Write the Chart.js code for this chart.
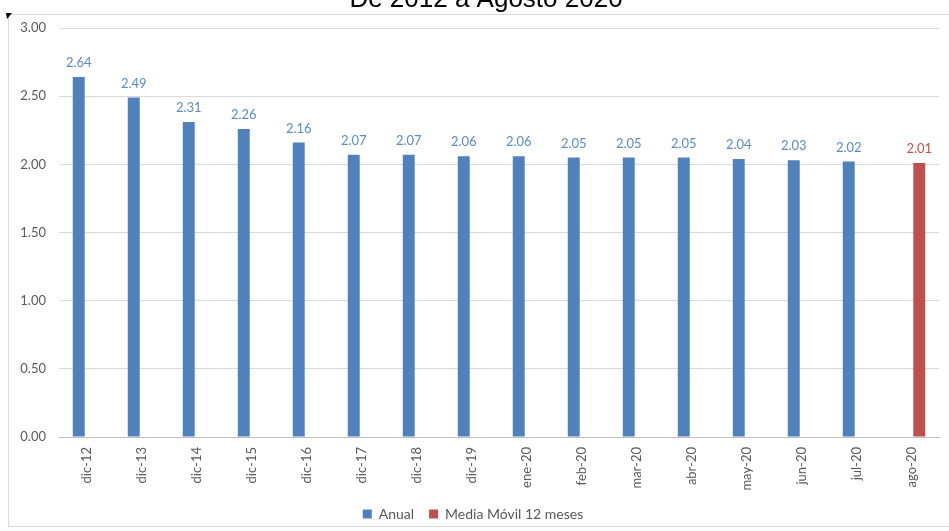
<!DOCTYPE html>
<html>
<head>
<meta charset="utf-8">
<script src="https://cdn.jsdelivr.net/npm/chart.js@4"></script>
<style>
  html, body { margin: 0; padding: 0; background: #fff; }
  #wrap { width: 949px; height: 531px; position: relative; }
</style>
</head>
<body>
<div id="wrap"><canvas id="chart" width="949" height="531"></canvas></div>
<script>
const titleText = "De 2012 a Agosto 2020";
const labels = ["dic-12", "dic-13", "dic-14", "dic-15", "dic-16", "dic-17", "dic-18", "dic-19",
  "ene-20", "feb-20", "mar-20", "abr-20", "may-20", "jun-20", "jul-20", "ago-20"];
const anual = [2.64, 2.49, 2.31, 2.26, 2.16, 2.07, 2.07, 2.06, 2.06, 2.05, 2.05, 2.05, 2.04, 2.03, 2.02, null];
const mediaMovil = [null, null, null, null, null, null, null, null, null, null, null, null, null, null, null, 2.01];
const seriesNames = ["Anual", "Media Móvil 12 meses"];

const gray = "#595959";
const font = "Lato, 'Open Sans', sans-serif";

// frame, cut-off title and value labels
const decor = {
  id: "decor",
  beforeDraw(chart) {
    const ctx = chart.ctx;
    ctx.save();
    ctx.fillStyle = "#fff";
    ctx.fillRect(0, 0, chart.width, chart.height);
    ctx.strokeStyle = "#d9d9d9";
    ctx.lineWidth = 1;
    ctx.strokeRect(8.5, 14.5, 950, 512);
    ctx.fillStyle = "#000";
    ctx.beginPath();
    ctx.moveTo(6, 13);
    ctx.lineTo(12, 13);
    ctx.lineTo(7, 19);
    ctx.closePath();
    ctx.fill();
    ctx.font = "26px 'Liberation Sans', Arial, sans-serif";
    ctx.textAlign = "center";
    ctx.textBaseline = "alphabetic";
    ctx.fillText(titleText, 486, 7);
    ctx.restore();
  },
  afterDatasetsDraw(chart) {
    const ctx = chart.ctx;
    ctx.save();
    ctx.font = "13px " + font;
    ctx.textAlign = "center";
    ctx.textBaseline = "alphabetic";
    chart.data.datasets.forEach((ds, i) => {
      const meta = chart.getDatasetMeta(i);
      ctx.fillStyle = ds.labelColor;
      meta.data.forEach((bar, j) => {
        const v = ds.data[j];
        if (v === null) return;
        ctx.fillText(v.toFixed(2), bar.x, bar.y - 10);
      });
    });
    ctx.restore();
  }
};

new Chart(document.getElementById("chart"), {
  type: "bar",
  data: {
    labels: labels,
    datasets: [
      { label: seriesNames[0], data: anual, backgroundColor: "#4f81bd", labelColor: "#5b8ac4" },
      { label: seriesNames[1], data: mediaMovil, backgroundColor: "#c0504d", labelColor: "#c0504d" }
    ]
  },
  options: {
    responsive: false,
    animation: false,
    categoryPercentage: 0.564,
    barPercentage: 0.77,
    layout: { padding: { top: 28, left: 7, right: 10, bottom: 0 } },
    plugins: {
      title: { display: false },
      tooltip: { enabled: false },
      legend: {
        position: "bottom",
        labels: {
          boxWidth: 9,
          boxHeight: 9,
          padding: 15,
          color: gray,
          font: { family: font, size: 14 }
        }
      }
    },
    scales: {
      x: {
        grid: { display: false },
        border: { color: "#bfbfbf" },
        ticks: {
          color: gray,
          font: { family: font, size: 13 },
          minRotation: 90,
          maxRotation: 90,
          padding: 2
        },
        afterFit(s) { s.height = 55; }
      },
      y: {
        min: 0,
        max: 3,
        grid: { color: "#d9d9d9", drawTicks: false },
        border: { display: false },
        ticks: {
          stepSize: 0.5,
          color: gray,
          padding: 13,
          font: { family: font, size: 13 },
          callback: (v) => v.toFixed(2)
        },
        afterFit(s) { s.width = 52; }
      }
    }
  },
  plugins: [decor]
});
</script>
</body>
</html>
